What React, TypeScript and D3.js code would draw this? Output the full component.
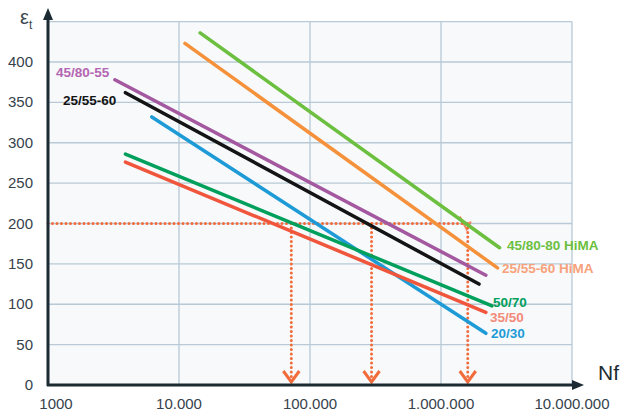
import React from 'react';
import * as d3 from 'd3';

// fatigue lines: [N start, eps start, N end, eps end]
const seriesNames = ['45/80-80 HiMA', '25/55-60 HiMA', '45/80-55', '25/55-60', '20/30', '50/70', '35/50'];
const seriesColors = ['#6cbf3f', '#f5913a', '#a3589f', '#141414', '#1e9bd7', '#00a05c', '#f0563c'];
const labelColors = ['#6cbf3f', '#f7a27a', '#b466b2', '#141414', '#1e9bd7', '#00a05c', '#f48a78'];
const startN = [14500, 11100, 3240, 3900, 6200, 3900, 3900];
const startEps = [436, 423, 378, 362, 332, 286, 276];
const endN = [2800000, 2700000, 2200000, 1950000, 2200000, 2450000, 2200000];
const endEps = [170, 145, 136, 125, 64, 98, 90];

const yTicks = [0, 50, 100, 150, 200, 250, 300, 350, 400];
const yGrid = [50, 100, 150, 200, 250, 300, 350, 400, 450];
const xTicks = [1000, 10000, 100000, 1000000, 10000000];
const xTickLabels = ['1000', '10.000', '100.000', '1.000.000', '10.000.000'];
const refEps = 200;
const cycleReads = [72000, 295000, 1600000];

const App = () => {
  const x = d3.scaleLog().domain([1000, 10000000]).range([48, 572]);
  const y = d3.scaleLinear().domain([0, 400]).range([385, 62]);
  const axisCol = '#1c2b33';
  const dotCol = '#f26b3a';
  const font = 'Liberation Sans, Arial, sans-serif';

  // label positions next to each line end
  const labelX = [507, 502, 56, 63, 491, 493, 490];
  const labelY = [250, 273, 77, 105, 338, 307, 322];
  const lastN = cycleReads[cycleReads.length - 1];

  return (
    <svg width={624} height={411} style={{ position: 'absolute', left: 0, top: 0 }}>
      <rect x={0} y={0} width={624} height={411} fill="#ffffff" />
      <rect x={x(1000)} y={y(450)} width={x(10000000) - x(1000)} height={y(0) - y(450)} fill="#f7f9fb" />
      {yGrid.map((v) => (
        <line key={'gy' + v} x1={x(1000)} x2={x(10000000)} y1={y(v)} y2={y(v)} stroke="#b9cad6" strokeWidth={1.3} />
      ))}
      {xTicks.slice(1).map((v) => (
        <line key={'gx' + v} x1={x(v)} x2={x(v)} y1={y(450)} y2={y(0)} stroke="#b9cad6" strokeWidth={1.3} />
      ))}

      {/* reference strain dotted lines */}
      <line x1={x(1000)} x2={x(lastN)} y1={y(refEps)} y2={y(refEps)} stroke={dotCol} strokeWidth={3} strokeDasharray="0 4.5" strokeLinecap="round" />
      <polyline points={`${x(lastN) - 8},${y(refEps) - 7} ${x(lastN) - 1},${y(refEps) + 6} ${x(lastN) + 3},${y(refEps) - 2}`} fill="none" stroke={dotCol} strokeWidth={2} opacity={0.8} />
      {cycleReads.map((n) => (
        <g key={'v' + n}>
          <line x1={x(n)} x2={x(n)} y1={y(refEps)} y2={y(0) - 4} stroke={dotCol} strokeWidth={3} strokeDasharray="0 4.5" strokeLinecap="round" />
          <polyline points={`${x(n) - 8},${y(0) - 14} ${x(n)},${y(0) - 3} ${x(n) + 8},${y(0) - 14}`} fill="none" stroke={dotCol} strokeWidth={3} />
        </g>
      ))}

      {seriesNames.map((name, i) => (
        <line key={name} x1={x(startN[i])} y1={y(startEps[i])} x2={x(endN[i])} y2={y(endEps[i])} stroke={seriesColors[i]} strokeWidth={3.5} strokeLinecap="round" />
      ))}

      {/* axes */}
      <line x1={x(1000)} x2={x(1000)} y1={y(0) + 1} y2={18} stroke={axisCol} strokeWidth={3} />
      <path d={`M${x(1000) - 5},20 L${x(1000)},8 L${x(1000) + 5},20 Z`} fill={axisCol} />
      <line x1={x(1000) - 1} x2={574} y1={y(0)} y2={y(0)} stroke={axisCol} strokeWidth={3} />
      <path d={`M572,${y(0) - 5} L584,${y(0)} L572,${y(0) + 5} Z`} fill={axisCol} />

      {yTicks.map((v) => (
        <text key={'ty' + v} x={33} y={y(v) + 5} textAnchor="end" fontFamily={font} fontSize={15} fill="#36424c">{v}</text>
      ))}
      {xTicks.map((v, i) => (
        <text key={'tx' + v} x={x(v) + (i === 0 ? 8 : 0)} y={409} textAnchor="middle" fontFamily={font} fontSize={15} fill="#36424c">{xTickLabels[i]}</text>
      ))}

      <text x={20} y={24} fontFamily={font} fontSize={20} fill="#3a4650">ε<tspan fontSize={12} dy={5}>t</tspan></text>
      <text x={598} y={380} fontFamily={font} fontSize={21} fill="#1c2b33">Nf</text>

      {seriesNames.map((name, i) => (
        <text key={'l' + name} x={labelX[i]} y={labelY[i]} fontFamily={font} fontSize={13.5} fontWeight="bold" fill={labelColors[i]}>{name}</text>
      ))}
    </svg>
  );
};

export default App;
